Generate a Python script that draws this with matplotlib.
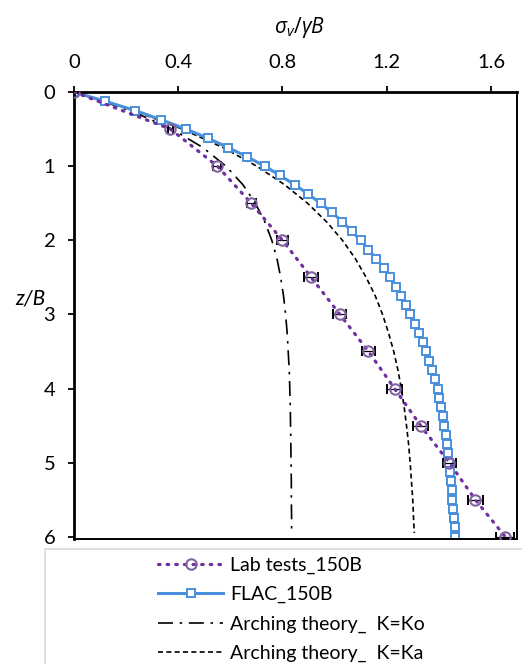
import matplotlib
matplotlib.use('Agg')
import matplotlib.pyplot as plt
from matplotlib.patches import Rectangle

# --- data ---
# lab tests (150B), depth z/B and normalised vertical stress with error
lab_z = [0, 0.5, 1.0, 1.5, 2.0, 2.5, 3.0, 3.5, 4.0, 4.5, 5.0, 5.5, 6.0]
lab_s = [0, 0.37, 0.55, 0.68, 0.80, 0.91, 1.02, 1.13, 1.23, 1.33, 1.44, 1.54, 1.655]
lab_err = [0, 0.01, 0.015, 0.018, 0.022, 0.027, 0.025, 0.025, 0.03, 0.029, 0.025, 0.029, 0.035]

# FLAC_150B, every 0.125 z/B
flac_z = [i * 0.125 for i in range(49)]
flac_s = [0, 0.12, 0.235, 0.335, 0.43, 0.515, 0.592, 0.665, 0.732, 0.79,
          0.847, 0.898, 0.946, 0.99, 1.03, 1.065, 1.10, 1.13, 1.16, 1.188,
          1.214, 1.235, 1.255, 1.273, 1.29, 1.308, 1.323, 1.338, 1.352, 1.364,
          1.375, 1.385, 1.395, 1.402, 1.408, 1.415, 1.421, 1.426, 1.431, 1.436,
          1.44, 1.443, 1.446, 1.449, 1.452, 1.456, 1.459, 1.461, 1.463]

# arching theory curves
arch_z = [0, 0.25, 0.5, 0.75, 1.0, 1.25, 1.5, 1.75, 2.0, 2.25, 2.5, 2.75, 3.0,
          3.25, 3.5, 3.75, 4.0, 4.25, 4.5, 4.75, 5.0, 5.25, 5.5, 5.75, 5.95]
ko_s = [0, 0.216, 0.376, 0.495, 0.583, 0.648, 0.696, 0.732, 0.759, 0.779,
        0.793, 0.804, 0.812, 0.818, 0.822, 0.826, 0.828, 0.830, 0.831, 0.832,
        0.833, 0.834, 0.834, 0.835, 0.835]
ka_s = [0, 0.228, 0.416, 0.572, 0.701, 0.808, 0.896, 0.969, 1.030, 1.080,
        1.121, 1.156, 1.184, 1.207, 1.227, 1.243, 1.256, 1.267, 1.276, 1.284,
        1.290, 1.295, 1.300, 1.303, 1.306]

xticks = [0, 0.4, 0.8, 1.2, 1.6]
xtick_labels = ['0', '0.4', '0.8', '1.2', '1.6']
yticks = [0, 1, 2, 3, 4, 5, 6]
legend_labels = ['Lab tests_150B', 'FLAC_150B', 'Arching theory_  K=Ko', 'Arching theory_  K=Ka']

plt.rcParams['font.family'] = ['Lato', 'DejaVu Sans']
plt.rcParams['mathtext.fontset'] = 'custom'
plt.rcParams['mathtext.it'] = 'Open Sans:italic'
plt.rcParams['mathtext.rm'] = 'Open Sans'

fig = plt.figure(figsize=(5.22, 6.64), dpi=100)
ax = fig.add_axes([0.1418, 0.1883, 0.8486, 0.6731])

purple_line = '#7030A0'
purple_mk = '#8064A2'
blue = '#4A8FDB'

ko_line, = ax.plot(ko_s, arch_z, color='black', lw=1.2, linestyle=(0, (9, 4, 1.5, 4)))
ka_line, = ax.plot(ka_s, arch_z, color='black', lw=1.2, linestyle=(0, (3, 2)))

flac_line, = ax.plot(flac_s, flac_z, color=blue, lw=2.2, marker='s', ms=5.4,
                     mfc='white', mec=blue, mew=1.4)

ax.errorbar(lab_s, lab_z, xerr=lab_err, fmt='none', ecolor='black', elinewidth=0.9,
            capsize=3.5, capthick=1.4, zorder=4)
lab_line, = ax.plot(lab_s, lab_z, color=purple_line, lw=2.3, linestyle=(0, (0.5, 2.2)),
                    dash_capstyle='round', marker='o', ms=7.5, mfc='none',
                    mec=purple_mk, mew=1.5, zorder=5)

ax.set_xlim(0, 1.7)
ax.set_ylim(6.03, 0)
ax.xaxis.tick_top()
ax.set_xticks(xticks)
ax.set_xticklabels(xtick_labels)
ax.set_yticks(yticks)
ax.tick_params(axis='both', direction='out', length=4.5, width=1.3, labelsize=14.5,
               colors='black')
ax.tick_params(axis='x', pad=11)
ax.tick_params(axis='y', pad=9)

for side in ['left', 'top']:
    ax.spines[side].set_linewidth(2.0)
for side in ['right', 'bottom']:
    ax.spines[side].set_linewidth(1.4)

fig.text(0.573, 0.958, r'$\sigma_v/\gamma B$', fontsize=15, ha='center', va='center')
fig.text(0.059, 0.551, 'z/B', fontsize=15, style='italic', ha='center', va='center')

# legend with its own light grey box running off the right edge
fig.patches.append(Rectangle((45 / 522, -0.1), 1.0, 0.1 + (664 - 549) / 664,
                             transform=fig.transFigure, fill=False,
                             edgecolor='#D9D9D9', lw=1.2))
fig.legend([lab_line, flac_line, ko_line, ka_line], legend_labels,
           loc='upper left', bbox_to_anchor=(0.303, 0.1615), frameon=False,
           fontsize=14, handlelength=3.35, handletextpad=0.36, labelspacing=0.62,
           borderpad=0, borderaxespad=0)

fig.savefig('out.png', dpi=100)
